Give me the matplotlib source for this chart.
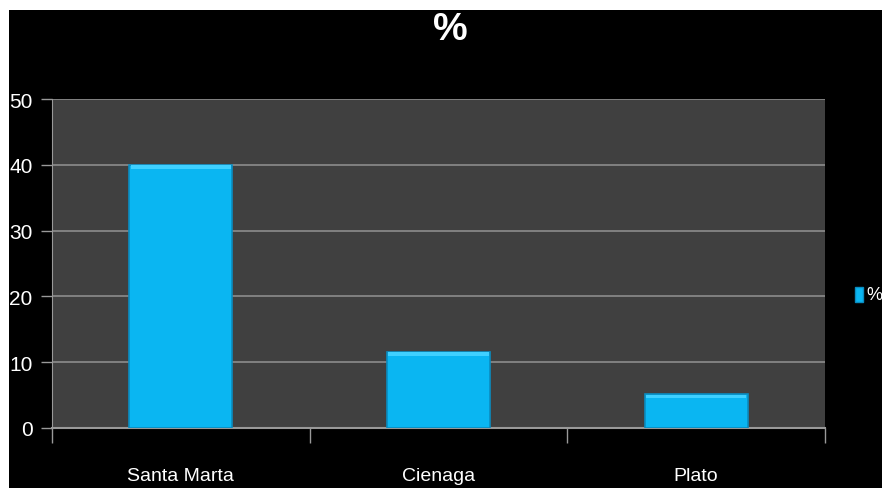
import matplotlib
matplotlib.use("Agg")
import matplotlib.pyplot as plt
from matplotlib.patches import Rectangle

categories = ["Santa Marta", "Cienaga", "Plato"]
values = [40, 11.6, 5.1]
y_ticks = [0, 10, 20, 30, 40, 50]
series_name = "%"

plt.rcParams['font.family'] = ["Liberation Sans", "DejaVu Sans"]

W, H = 884, 489
fig = plt.figure(figsize=(W/100, H/100), dpi=100, facecolor="white")
fig.patches.append(Rectangle((9/W, 0), (882-9)/W, (H-11)/H, transform=fig.transFigure,
                             facecolor="black", edgecolor="none", zorder=-10))

ax = fig.add_axes([52/W, 60/H, 773/W, 329/H])
ax.set_facecolor("#404040")
x = list(range(len(categories)))
ax.bar(x, values, width=0.4, color="#0ab6f2", edgecolor="#0a8cc0", linewidth=1.2, zorder=3,
       label=series_name)
# light bevel on top
for xi, v in zip(x, values):
    ax.add_patch(Rectangle((xi-0.195, v-0.6), 0.39, 0.55, facecolor="#3fd0ff", edgecolor="none", zorder=4))

ax.set_xlim(-0.5, len(categories)-0.5)
ax.set_ylim(0, 50)
ax.set_yticks(y_ticks)
ax.set_yticklabels([str(t) for t in y_ticks], color="white", fontsize=15)
ax.set_xticks(x)
ax.set_xticklabels(categories, color="white", fontsize=14)
ax.tick_params(axis="x", length=0, pad=28)
ax.set_xticks([i-0.5 for i in range(len(categories)+1)], minor=True)
ax.tick_params(axis="x", which="minor", length=11, color="#999999", width=1)
ax.tick_params(axis="y", length=8, color="#999999", width=1, pad=6)
ax.grid(axis="y", color="#8c8c8c", linewidth=1.2, zorder=1)
for s in ["top", "right"]:
    ax.spines[s].set_visible(False)
ax.spines["left"].set_color("#999999")
ax.spines["bottom"].set_color("#999999")
ax.spines["bottom"].set_linewidth(1.5)

fig.text(450/W, 1-30/H, "%", color="white", fontsize=28, fontweight="bold",
         ha="center", va="center")

fig.patches.append(Rectangle((855/W, 1-303/H), 8/W, 15/H, transform=fig.transFigure,
                             facecolor="#0ab6f2", edgecolor="#0a8cc0", zorder=5))
fig.text(866/W, 1-296/H, "%", color="white", fontsize=13, ha="left", va="center")

fig.savefig("out.png", dpi=100, facecolor=fig.get_facecolor())
